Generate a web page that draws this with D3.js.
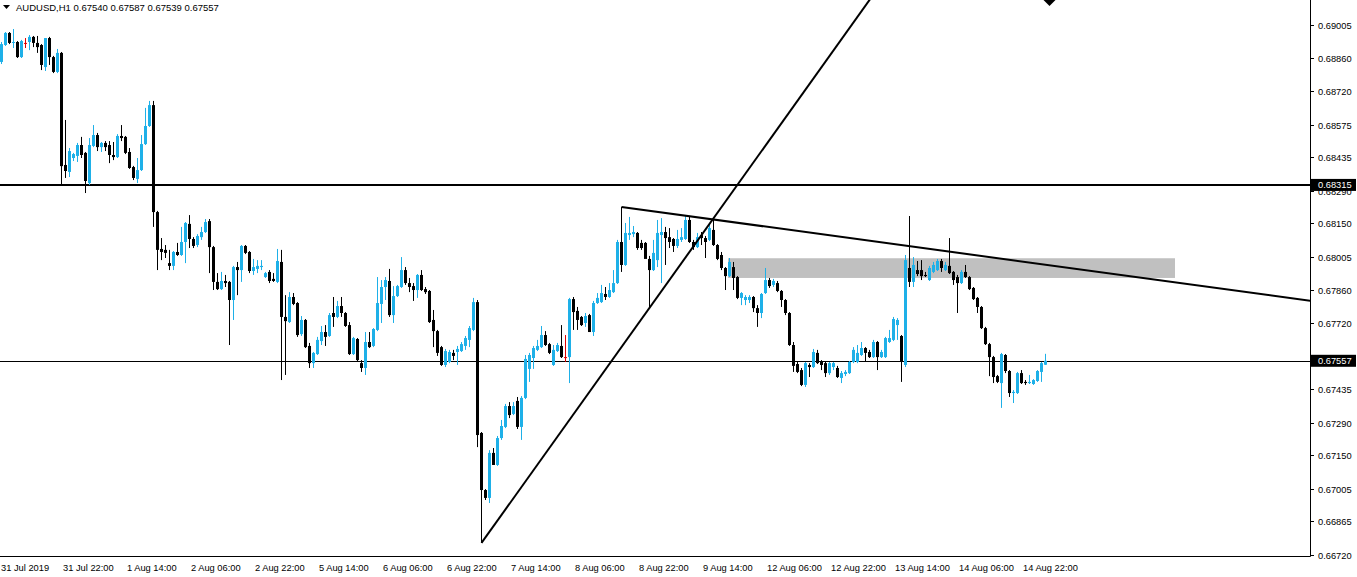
<!DOCTYPE html>
<html><head><meta charset="utf-8">
<script src="https://cdn.jsdelivr.net/npm/d3@7"></script>
<style>
html,body{margin:0;padding:0;background:#fff;overflow:hidden;}
svg{display:block;font-family:"Liberation Sans",Arial,sans-serif;}
</style></head><body>
<svg id="c" width="1357" height="577"></svg>
<script>
const symbolTitle = "AUDUSD,H1";
const lastQuote = [0.67540, 0.67587, 0.67539, 0.67557];

const open = [
0.68845,0.68918,0.68970,0.68927,0.68931,0.68866,0.68927,0.68931,0.68953,0.68927,
0.68918,0.68823,0.68948,0.68866,0.68802,0.68884,0.68401,0.68371,0.68431,0.68440,
0.68487,0.68453,0.68323,0.68483,0.68530,0.68478,0.68496,0.68487,0.68444,0.68435,
0.68526,0.68522,0.68457,0.68392,0.68341,0.68379,0.68491,0.68569,0.68659,0.68198,
0.68039,0.68035,0.67978,0.67966,0.68026,0.68013,0.68069,0.68147,0.68082,0.68056,
0.68090,0.68112,0.68159,0.68047,0.67897,0.67866,0.67901,0.67897,0.67819,0.67961,
0.67948,0.68052,0.68026,0.67944,0.67953,0.67961,0.67918,0.67940,0.67910,0.67897,
0.67983,0.67746,0.67724,0.67832,0.67806,0.67672,0.67733,0.67621,0.67547,0.67586,
0.67642,0.67681,0.67664,0.67763,0.67746,0.67793,0.67763,0.67711,0.67586,0.67651,
0.67547,0.67526,0.67638,0.67621,0.67690,0.67802,0.67875,0.67901,0.67754,0.67836,
0.67875,0.67948,0.67892,0.67879,0.67862,0.67927,0.67866,0.67858,0.67733,0.67685,
0.67616,0.67539,0.67552,0.67591,0.67595,0.67599,0.67621,0.67647,0.67690,0.67810,
0.67246,0.67000,0.66966,0.67160,0.67108,0.67224,0.67272,0.67362,0.67328,0.67384,
0.67272,0.67397,0.67522,0.67569,0.67604,0.67616,0.67668,0.67629,0.67539,0.67599,
0.67621,0.67573,0.67573,0.67823,0.67772,0.67746,0.67720,0.67754,0.67681,0.67806,
0.67810,0.67845,0.67832,0.67853,0.67892,0.68069,0.67970,0.68099,0.68103,0.68108,
0.68065,0.68065,0.67996,0.67948,0.67991,0.68099,0.68112,0.68090,0.68082,0.68052,
0.68078,0.68082,0.68164,0.68069,0.68047,0.68099,0.68086,0.68078,0.68121,0.68056,
0.68013,0.67957,0.67922,0.67961,0.67918,0.67828,0.67819,0.67819,0.67832,0.67784,
0.67763,0.67849,0.67905,0.67884,0.67892,0.67858,0.67819,0.67763,0.67625,0.67543,
0.67517,0.67453,0.67539,0.67530,0.67591,0.67552,0.67547,0.67504,0.67530,0.67526,
0.67483,0.67500,0.67504,0.67552,0.67552,0.67582,0.67612,0.67595,0.67573,0.67638,
0.67573,0.67573,0.67638,0.67647,0.67711,0.67664,0.67539,0.67957,0.67897,0.67948,
0.67948,0.67927,0.67905,0.67940,0.67948,0.67987,0.67948,0.67966,0.67940,0.67918,
0.67892,0.67940,0.67918,0.67871,0.67828,0.67789,0.67698,0.67629,0.67573,0.67491,
0.67461,0.67582,0.67513,0.67418,0.67418,0.67504,0.67466,0.67461,0.67457,0.67470,
0.67509,0.67540];

const high = [
0.68931,0.68974,0.68974,0.68987,0.68935,0.68940,0.68948,0.68961,0.68957,0.68957,
0.68922,0.68948,0.68953,0.68871,0.68901,0.68888,0.68595,0.68474,0.68453,0.68496,
0.68522,0.68457,0.68517,0.68573,0.68539,0.68500,0.68504,0.68504,0.68500,0.68534,
0.68573,0.68526,0.68474,0.68397,0.68431,0.68530,0.68647,0.68677,0.68677,0.68203,
0.68086,0.68056,0.68035,0.68030,0.68065,0.68134,0.68155,0.68185,0.68090,0.68103,
0.68134,0.68168,0.68168,0.68052,0.67935,0.67940,0.67927,0.67901,0.67966,0.67983,
0.68056,0.68056,0.68030,0.67996,0.67991,0.67991,0.67940,0.67948,0.67935,0.68039,
0.68035,0.67840,0.67853,0.67849,0.67810,0.67750,0.67737,0.67634,0.67595,0.67660,
0.67707,0.67711,0.67763,0.67832,0.67815,0.67832,0.67767,0.67724,0.67660,0.67655,
0.67560,0.67681,0.67681,0.67698,0.67918,0.67905,0.67918,0.67953,0.67879,0.67884,
0.68004,0.67961,0.67914,0.67892,0.67931,0.67948,0.67875,0.67862,0.67776,0.67690,
0.67621,0.67608,0.67604,0.67604,0.67621,0.67638,0.67664,0.67707,0.67828,0.67819,
0.67250,0.67004,0.67172,0.67181,0.67233,0.67302,0.67371,0.67379,0.67379,0.67401,
0.67405,0.67582,0.67591,0.67621,0.67647,0.67707,0.67685,0.67634,0.67625,0.67634,
0.67711,0.67668,0.67828,0.67832,0.67789,0.67750,0.67763,0.67759,0.67815,0.67849,
0.67884,0.67875,0.67892,0.67948,0.68078,0.68220,0.68151,0.68177,0.68138,0.68112,
0.68078,0.68069,0.68009,0.68078,0.68164,0.68172,0.68134,0.68129,0.68086,0.68121,
0.68129,0.68185,0.68177,0.68078,0.68108,0.68112,0.68095,0.68151,0.68164,0.68060,
0.68026,0.67961,0.68000,0.67983,0.67922,0.67853,0.67840,0.67840,0.67836,0.67797,
0.67849,0.67957,0.67914,0.67910,0.67901,0.67862,0.67823,0.67767,0.67638,0.67552,
0.67526,0.67552,0.67547,0.67608,0.67604,0.67560,0.67552,0.67552,0.67552,0.67535,
0.67513,0.67517,0.67556,0.67616,0.67625,0.67638,0.67616,0.67604,0.67647,0.67642,
0.67604,0.67660,0.67690,0.67746,0.67741,0.67668,0.68013,0.68181,0.68004,0.67987,
0.67991,0.67940,0.67966,0.67983,0.67996,0.67996,0.67983,0.68086,0.67944,0.67927,
0.67948,0.67970,0.67922,0.67875,0.67832,0.67793,0.67703,0.67634,0.67578,0.67496,
0.67591,0.67586,0.67517,0.67431,0.67509,0.67517,0.67474,0.67496,0.67478,0.67517,
0.67552,0.67587];

const low = [
0.68836,0.68914,0.68922,0.68905,0.68862,0.68862,0.68905,0.68896,0.68909,0.68884,
0.68810,0.68806,0.68832,0.68797,0.68797,0.68315,0.68345,0.68349,0.68418,0.68414,
0.68431,0.68280,0.68315,0.68478,0.68461,0.68457,0.68461,0.68409,0.68422,0.68431,
0.68504,0.68448,0.68384,0.68336,0.68323,0.68375,0.68487,0.68565,0.68134,0.67948,
0.67991,0.68000,0.67948,0.67948,0.68009,0.68009,0.67978,0.68043,0.68043,0.68047,
0.68078,0.68108,0.67935,0.67862,0.67862,0.67862,0.67875,0.67625,0.67733,0.67840,
0.67897,0.68017,0.67935,0.67927,0.67935,0.67948,0.67914,0.67892,0.67897,0.67892,
0.67474,0.67496,0.67720,0.67797,0.67660,0.67664,0.67612,0.67526,0.67526,0.67582,
0.67625,0.67621,0.67660,0.67703,0.67741,0.67746,0.67703,0.67582,0.67582,0.67556,
0.67509,0.67496,0.67612,0.67616,0.67685,0.67720,0.67819,0.67746,0.67720,0.67832,
0.67871,0.67884,0.67853,0.67815,0.67828,0.67858,0.67845,0.67720,0.67616,0.67578,
0.67535,0.67530,0.67547,0.67560,0.67539,0.67595,0.67604,0.67616,0.67685,0.67185,
0.66772,0.66957,0.66944,0.67108,0.67104,0.67216,0.67267,0.67310,0.67323,0.67263,
0.67216,0.67392,0.67466,0.67522,0.67599,0.67612,0.67621,0.67586,0.67535,0.67595,
0.67569,0.67552,0.67461,0.67690,0.67690,0.67707,0.67703,0.67681,0.67664,0.67802,
0.67806,0.67819,0.67828,0.67849,0.67888,0.67940,0.67966,0.68078,0.68090,0.68035,
0.68035,0.68000,0.67785,0.67944,0.67961,0.67892,0.67970,0.68043,0.68026,0.68043,
0.68069,0.68078,0.68065,0.68035,0.68043,0.68056,0.68000,0.68073,0.68052,0.67991,
0.67948,0.67862,0.67918,0.67862,0.67823,0.67797,0.67797,0.67806,0.67767,0.67703,
0.67741,0.67845,0.67871,0.67875,0.67853,0.67789,0.67754,0.67621,0.67509,0.67504,
0.67448,0.67444,0.67487,0.67526,0.67543,0.67517,0.67487,0.67496,0.67517,0.67483,
0.67461,0.67491,0.67500,0.67547,0.67547,0.67578,0.67552,0.67569,0.67569,0.67517,
0.67569,0.67569,0.67634,0.67642,0.67647,0.67466,0.67530,0.67875,0.67875,0.67922,
0.67905,0.67918,0.67901,0.67935,0.67944,0.67940,0.67944,0.67931,0.67884,0.67763,
0.67888,0.67914,0.67862,0.67819,0.67763,0.67694,0.67625,0.67491,0.67461,0.67461,
0.67354,0.67504,0.67401,0.67375,0.67414,0.67457,0.67453,0.67457,0.67453,0.67466,
0.67466,0.67539];

const close = [
0.68922,0.68970,0.68927,0.68931,0.68866,0.68935,0.68927,0.68953,0.68927,0.68909,
0.68832,0.68948,0.68866,0.68802,0.68884,0.68396,0.68375,0.68461,0.68448,0.68487,
0.68444,0.68332,0.68487,0.68530,0.68478,0.68496,0.68478,0.68444,0.68435,0.68526,
0.68517,0.68453,0.68388,0.68345,0.68379,0.68491,0.68569,0.68659,0.68198,0.68035,
0.68026,0.68022,0.67966,0.68026,0.68013,0.68069,0.68151,0.68082,0.68052,0.68095,
0.68112,0.68155,0.68047,0.67897,0.67866,0.67901,0.67892,0.67819,0.67961,0.67948,
0.68052,0.68022,0.67944,0.67961,0.67966,0.67966,0.67935,0.67901,0.67901,0.67987,
0.67746,0.67728,0.67832,0.67802,0.67668,0.67733,0.67616,0.67547,0.67591,0.67647,
0.67681,0.67660,0.67754,0.67746,0.67793,0.67763,0.67707,0.67586,0.67655,0.67560,
0.67526,0.67638,0.67616,0.67694,0.67806,0.67875,0.67905,0.67754,0.67836,0.67879,
0.67948,0.67892,0.67875,0.67862,0.67927,0.67862,0.67853,0.67724,0.67685,0.67591,
0.67539,0.67599,0.67595,0.67578,0.67608,0.67629,0.67655,0.67698,0.67810,0.67237,
0.67000,0.66966,0.67160,0.67108,0.67224,0.67276,0.67362,0.67323,0.67362,0.67272,
0.67397,0.67565,0.67582,0.67612,0.67621,0.67668,0.67625,0.67591,0.67604,0.67625,
0.67573,0.67573,0.67823,0.67767,0.67733,0.67711,0.67750,0.67681,0.67806,0.67828,
0.67849,0.67832,0.67862,0.67892,0.68069,0.67970,0.68108,0.68108,0.68112,0.68043,
0.68043,0.67996,0.67948,0.68022,0.68108,0.68112,0.68086,0.68069,0.68052,0.68082,
0.68090,0.68164,0.68069,0.68047,0.68090,0.68086,0.68069,0.68129,0.68056,0.67996,
0.67957,0.67922,0.67983,0.67914,0.67828,0.67849,0.67832,0.67832,0.67784,0.67763,
0.67845,0.67905,0.67879,0.67901,0.67858,0.67819,0.67763,0.67625,0.67535,0.67509,
0.67453,0.67547,0.67530,0.67595,0.67547,0.67539,0.67504,0.67547,0.67547,0.67487,
0.67504,0.67509,0.67552,0.67604,0.67591,0.67612,0.67591,0.67573,0.67638,0.67573,
0.67595,0.67655,0.67655,0.67737,0.67733,0.67552,0.67991,0.67897,0.67970,0.67931,
0.67922,0.67922,0.67957,0.67970,0.67987,0.67957,0.67970,0.67935,0.67905,0.67892,
0.67940,0.67918,0.67866,0.67823,0.67789,0.67698,0.67629,0.67573,0.67487,0.67466,
0.67586,0.67513,0.67418,0.67423,0.67504,0.67461,0.67461,0.67466,0.67474,0.67513,
0.67547,0.67557];

const firstDateLabel = "31 Jul 2019";
const timeLabels = ["31 Jul 22:00","1 Aug 14:00","2 Aug 06:00","2 Aug 22:00","5 Aug 14:00","6 Aug 06:00",
  "6 Aug 22:00","7 Aug 14:00","8 Aug 06:00","8 Aug 22:00","9 Aug 14:00","12 Aug 06:00","12 Aug 22:00",
  "13 Aug 14:00","14 Aug 06:00","14 Aug 22:00"];
const timeLabelBars = [15,31,47,63,79,95,111,127,143,159,175,191,207,223,239,255];
const priceTicks = [0.69005,0.68860,0.68720,0.68575,0.68435,0.68290,0.68150,0.68005,0.67860,
  0.67720,0.67575,0.67435,0.67290,0.67150,0.67005,0.66865,0.66720];
const levelLines = [0.68315, 0.67557];
const levelWidths = [2, 1];
const trendUp = [[120, 0.66772], [217, 0.69112]];
const trendDown = [[155, 0.68220], [327.5, 0.67815]];
const zoneBars = [181.75, 293.5];
const zonePrices = [0.67999, 0.67914];
const arrowMark = [262, 0.69112];

const W = 1357, H = 577, plotR = 1310, plotB = 556;
const bullColor = "#1eb0e8", bearColor = "#000000", dojiColor = "#e00000";
const svg = d3.select("#c");
const xs = d3.scaleLinear().domain([0, 327.25]).range([1, 1310]);
const ys = d3.scaleLinear().domain([0.66720, 0.69112]).range([555, 0]);

svg.append("defs").append("clipPath").attr("id","plot")
  .append("rect").attr("x",0).attr("y",0).attr("width",plotR).attr("height",plotB);
const plot = svg.append("g").attr("clip-path","url(#plot)");

// zone rectangle
plot.append("rect")
  .attr("x", xs(zoneBars[0])).attr("width", xs(zoneBars[1]) - xs(zoneBars[0]))
  .attr("y", ys(zonePrices[0])).attr("height", ys(zonePrices[1]) - ys(zonePrices[0]))
  .attr("fill", "#c0c0c0");

// level lines
levelLines.forEach((p, k) => {
  const yy = Math.round(ys(p)) + (levelWidths[k] % 2 ? 0.5 : 0);
  plot.append("line").attr("x1",0).attr("x2",plotR).attr("y1",yy).attr("y2",yy)
    .attr("stroke","#000").attr("stroke-width",levelWidths[k]);
});

// candles
const idx = d3.range(open.length);
const colorOf = i => close[i] > open[i] ? bullColor : (close[i] < open[i] ? bearColor : dojiColor);
const cg = plot.append("g");
cg.selectAll("line.w").data(idx).join("line").attr("class","w")
  .attr("x1", i => Math.round(xs(i)) + 0.5).attr("x2", i => Math.round(xs(i)) + 0.5)
  .attr("y1", i => ys(high[i])).attr("y2", i => ys(low[i]))
  .attr("stroke", colorOf).attr("stroke-width", 1);
cg.selectAll("rect.b").data(idx).join("rect").attr("class","b")
  .attr("x", i => Math.round(xs(i)) - 1)
  .attr("width", 3)
  .attr("y", i => Math.min(ys(open[i]), ys(close[i])))
  .attr("height", i => Math.max(1, Math.abs(ys(open[i]) - ys(close[i]))))
  .attr("fill", colorOf);

// trendlines (rays)
function ray(pts, toBar) {
  const [a, b] = pts;
  const slope = (b[1] - a[1]) / (b[0] - a[0]);
  const pEnd = a[1] + slope * (toBar - a[0]);
  plot.append("line")
    .attr("x1", xs(a[0]) + 0.5).attr("y1", ys(a[1]))
    .attr("x2", xs(toBar) + 0.5).attr("y2", ys(pEnd))
    .attr("stroke", "#000").attr("stroke-width", 2);
}
ray(trendUp, 300);
ray(trendDown, 340);

// arrow mark at top
{
  const ax = xs(arrowMark[0]) + 0.5, ay = ys(arrowMark[1]);
  plot.append("path").attr("d", `M${ax-6},${ay} L${ax+6},${ay} L${ax},${ay+6} Z`).attr("fill","#000");
}

// axes
svg.append("line").attr("x1", plotR + 0.5).attr("x2", plotR + 0.5).attr("y1", 0).attr("y2", plotB + 0.5)
  .attr("stroke","#000");
svg.append("line").attr("x1", 0).attr("x2", plotR + 0.5).attr("y1", plotB + 0.5).attr("y2", plotB + 0.5)
  .attr("stroke","#000");

const fs = "9.3px";
const ya = svg.append("g");
priceTicks.forEach(p => {
  const yy = Math.round(ys(p)) + 0.5;
  ya.append("line").attr("x1", plotR).attr("x2", plotR + 4).attr("y1", yy).attr("y2", yy).attr("stroke","#000");
  ya.append("text").attr("x", plotR + 8).attr("y", yy + 3.5).attr("font-size", fs).attr("fill","#000")
    .text(p.toFixed(5));
});
levelLines.forEach(p => {
  const yy = ys(p);
  ya.append("rect").attr("x", plotR + 1).attr("y", yy - 6).attr("width", W - plotR - 2).attr("height", 12)
    .attr("fill", "#000");
  ya.append("text").attr("x", plotR + 8).attr("y", yy + 3.5).attr("font-size", fs).attr("fill","#fff")
    .text(p.toFixed(5));
});

const xa = svg.append("g");
xa.append("text").attr("x", 1).attr("y", 571).attr("font-size", fs).attr("fill","#000").text(firstDateLabel);
timeLabels.forEach((t, k) => {
  xa.append("text").attr("x", Math.round(xs(timeLabelBars[k])) + 2).attr("y", 571)
    .attr("font-size", fs).attr("fill","#000").text(t);
});

// header
svg.append("path").attr("d","M3,5 L10,5 L6.5,9 Z").attr("fill","#000");
svg.append("text").attr("x", 16).attr("y", 11).attr("font-size", "9.5px").attr("fill","#000")
  .text(symbolTitle + "  " + lastQuote.map(v => v.toFixed(5)).join(" "));
</script>
</body></html>
